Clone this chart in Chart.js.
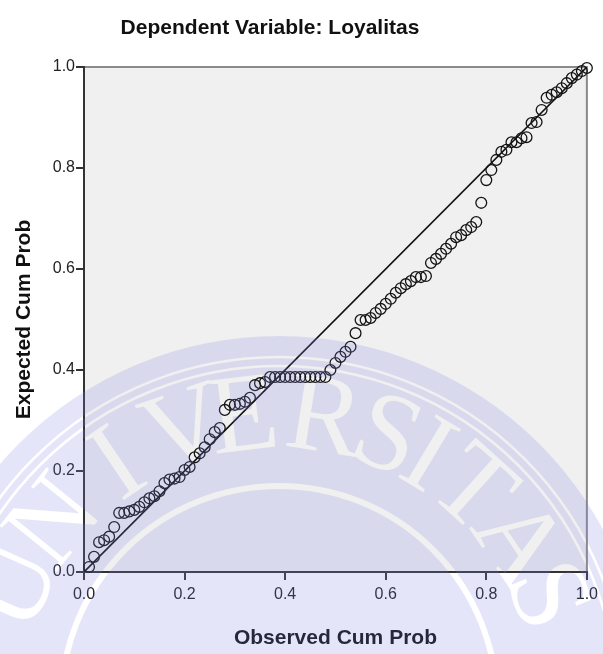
<!DOCTYPE html>
<html>
<head>
<meta charset="utf-8">
<title>P-P Plot Loyalitas</title>
<script src="https://cdn.jsdelivr.net/npm/chart.js@4.4.0/dist/chart.umd.min.js"></script>
<style>
  html, body { margin: 0; padding: 0; background: #fff; }
  #wrap { width: 603px; height: 654px; }
</style>
</head>
<body>
<div id="wrap"><canvas id="ppChart" width="603" height="654"></canvas></div>
<script>
// Observed vs expected cumulative probability
const observedProb = [
  0.01, 0.02, 0.03, 0.04, 0.05, 0.06, 0.07, 0.08, 0.09, 0.10,
  0.11, 0.12, 0.13, 0.14, 0.15, 0.16, 0.17, 0.18, 0.19, 0.20,
  0.21, 0.22, 0.23, 0.24, 0.25, 0.26, 0.27, 0.28, 0.29, 0.30,
  0.31, 0.32, 0.33, 0.34, 0.35, 0.36, 0.37, 0.38, 0.39, 0.40,
  0.41, 0.42, 0.43, 0.44, 0.45, 0.46, 0.47, 0.48, 0.49, 0.50,
  0.51, 0.52, 0.53, 0.54, 0.55, 0.56, 0.57, 0.58, 0.59, 0.60,
  0.61, 0.62, 0.63, 0.64, 0.65, 0.66, 0.67, 0.68, 0.69, 0.70,
  0.71, 0.72, 0.73, 0.74, 0.75, 0.76, 0.77, 0.78, 0.79, 0.80,
  0.81, 0.82, 0.83, 0.84, 0.85, 0.86, 0.87, 0.88, 0.89, 0.90,
  0.91, 0.92, 0.93, 0.94, 0.95, 0.96, 0.97, 0.98, 0.99, 1.00
];
const expectedProb = [
  0.010, 0.030, 0.059, 0.063, 0.070, 0.089, 0.117, 0.117, 0.120, 0.123,
  0.129, 0.138, 0.146, 0.150, 0.160, 0.176, 0.183, 0.185, 0.188, 0.202,
  0.208, 0.227, 0.235, 0.247, 0.263, 0.277, 0.285, 0.321, 0.331, 0.331,
  0.333, 0.337, 0.345, 0.370, 0.374, 0.376, 0.386, 0.386, 0.386, 0.386,
  0.386, 0.386, 0.386, 0.386, 0.386, 0.386, 0.386, 0.386, 0.400, 0.414,
  0.426, 0.436, 0.446, 0.473, 0.499, 0.499, 0.503, 0.513, 0.521, 0.531,
  0.541, 0.553, 0.562, 0.570, 0.576, 0.584, 0.584, 0.586, 0.612, 0.620,
  0.630, 0.640, 0.650, 0.663, 0.667, 0.677, 0.683, 0.693, 0.731, 0.776,
  0.796, 0.816, 0.832, 0.836, 0.851, 0.851, 0.859, 0.861, 0.889, 0.891,
  0.915, 0.939, 0.945, 0.950, 0.958, 0.968, 0.978, 0.985, 0.992, 0.998
];
const diagonalX = [0, 1];
const diagonalY = [0, 1];
const axisMin = 0;
const axisMax = 1;
const axisStep = 0.2;
const chartTitle = 'Dependent Variable: Loyalitas';

const FONT = '"Liberation Sans", Arial, sans-serif';

// fond gris de la zone de tracé + bordure haut/droite + titre
const plotBackground = {
  id: 'plotBackground',
  beforeDraw(chart) {
    const { ctx, chartArea: a } = chart;
    ctx.save();
    ctx.fillStyle = '#ffffff';
    ctx.fillRect(0, 0, chart.width, chart.height);
    ctx.fillStyle = '#f0f0f0';
    ctx.fillRect(a.left, a.top, a.right - a.left, a.bottom - a.top);
    ctx.strokeStyle = '#8a8a8a';
    ctx.lineWidth = 2;
    ctx.beginPath();
    ctx.moveTo(a.left, a.top);
    ctx.lineTo(a.right, a.top);
    ctx.lineTo(a.right, a.bottom);
    ctx.stroke();
    // titre (SPSS le place un peu à gauche du centre)
    ctx.fillStyle = '#111111';
    ctx.font = 'bold 21px ' + FONT;
    ctx.textAlign = 'center';
    ctx.textBaseline = 'middle';
    ctx.fillText(chartTitle, 270, 28);
    ctx.restore();
  }
};

// filigrane (sceau) semi-transparent par-dessus le graphique
const watermark = {
  id: 'watermark',
  afterDraw(chart) {
    const { ctx } = chart;
    const off = document.createElement('canvas');
    off.width = chart.width;
    off.height = chart.height;
    const o = off.getContext('2d');
    const cx = 279, cy = 704;
    o.fillStyle = '#8282e6';
    o.beginPath();
    o.arc(cx, cy, 368, 0, Math.PI * 2);
    o.fill();
    o.globalCompositeOperation = 'destination-out';
    o.lineWidth = 2.5;
    [338, 347].forEach(r => {
      o.beginPath();
      o.arc(cx, cy, r, 0, Math.PI * 2);
      o.stroke();
    });
    o.lineWidth = 6;
    o.beginPath();
    o.arc(cx, cy, 218, 0, Math.PI * 2);
    o.stroke();
    const letters = 'UNIVERSITAS'.split('');
    const angles = [-66, -51, -34, -19, -7, 9, 22, 31, 42, 56, 68];
    o.font = '112px "Liberation Serif", "DejaVu Serif", serif';
    o.textAlign = 'center';
    o.textBaseline = 'alphabetic';
    letters.forEach((ch, i) => {
      const t = angles[i] * Math.PI / 180;
      o.save();
      o.translate(cx + 293 * Math.sin(t), cy - 293 * Math.cos(t));
      o.rotate(t);
      o.fillText(ch, 0, 37);
      o.restore();
    });
    ctx.save();
    ctx.globalAlpha = 0.2;
    ctx.drawImage(off, 0, 0);
    ctx.restore();
  }
};

const points = observedProb.map((x, i) => ({ x: x, y: expectedProb[i] }));
const diagonal = diagonalX.map((x, i) => ({ x: x, y: diagonalY[i] }));

const axisCommon = {
  type: 'linear',
  min: axisMin,
  max: axisMax,
  border: { display: true, color: '#333333', width: 2 },
  grid: {
    display: true,
    drawOnChartArea: false,
    drawTicks: true,
    tickLength: 8,
    color: '#333333',
    lineWidth: 2
  }
};

new Chart(document.getElementById('ppChart'), {
  type: 'scatter',
  data: {
    datasets: [
      {
        type: 'line',
        label: 'Diagonal',
        data: diagonal,
        borderColor: '#111111',
        borderWidth: 1.6,
        pointRadius: 0,
        fill: false,
        order: 2
      },
      {
        label: 'Loyalitas',
        data: points,
        pointStyle: 'circle',
        pointRadius: 5.4,
        pointBorderWidth: 1.3,
        pointBorderColor: '#141414',
        pointBackgroundColor: 'rgba(0,0,0,0)',
        borderColor: '#141414',
        backgroundColor: 'rgba(0,0,0,0)',
        clip: false,
        order: 1
      }
    ]
  },
  options: {
    responsive: false,
    animation: false,
    devicePixelRatio: 1,
    layout: { padding: { left: 0, right: 14, top: 67, bottom: 0 } },
    plugins: {
      legend: { display: false },
      tooltip: { enabled: false },
      title: { display: false }
    },
    scales: {
      x: Object.assign({}, axisCommon, {
        position: 'bottom',
        afterFit(scale) { scale.height = 82; },
        ticks: {
          stepSize: axisStep,
          padding: 5,
          color: '#222222',
          font: { family: FONT, size: 16 },
          callback: v => v.toFixed(1)
        },
        title: {
          display: true,
          text: 'Observed Cum Prob',
          color: '#111111',
          font: { family: FONT, size: 21, weight: 'bold', lineHeight: 1.2 },
          padding: { top: 0, bottom: 3 }
        }
      }),
      y: Object.assign({}, axisCommon, {
        position: 'left',
        afterFit(scale) { scale.width = 84; },
        ticks: {
          stepSize: axisStep,
          padding: 1,
          color: '#222222',
          font: { family: FONT, size: 16 },
          callback: v => v.toFixed(1)
        },
        title: {
          display: true,
          text: 'Expected Cum Prob',
          color: '#111111',
          font: { family: FONT, size: 21, weight: 'bold', lineHeight: 1.2 },
          padding: { top: 12, bottom: 0 }
        }
      })
    }
  },
  plugins: [plotBackground, watermark]
});
</script>
</body>
</html>
